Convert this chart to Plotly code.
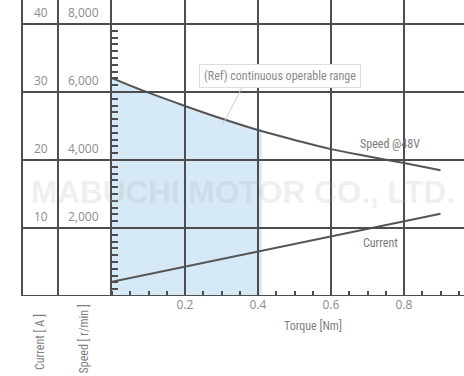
import numpy as np
import plotly.graph_objects as go

# ---- data ----
torque = [0.0, 0.1, 0.2, 0.3, 0.4, 0.5, 0.6, 0.7, 0.8, 0.9]
speed_rpm = [6410, 5980, 5590, 5220, 4880, 4590, 4320, 4110, 3910, 3700]
current_torque = [0.0, 0.9]
current_a = [2.1, 12.1]
range_limit = 0.41
x_ticks = [0.2, 0.4, 0.6, 0.8]
x_tick_labels = ["0.2", "0.4", "0.6", "0.8"]
speed_ticks = [2000, 4000, 6000, 8000]
speed_labels = ["2,000", "4,000", "6,000", "8,000"]
current_ticks = [10, 20, 30, 40]
current_labels = ["10", "20", "30", "40"]

# ---- styling ----
W, H = 464, 376
ML, MR, MT, MB = 112, 0, 0, 80
PW = W - ML - MR
GRID = "#4d4d4d"
CURVE = "#555555"
TXT = "#8c8c8c"
NUMFONT = "Open Sans, Roboto, sans-serif"
NARROW = "Liberation Sans Narrow, Roboto Condensed, Roboto, sans-serif"
FILL = "#d5e9f6"

def px2paper(p):
    return (p - ML) / PW

y_max = 296 / 68 * 2000
y2_max = y_max / 200.0
x_max = PW / 365.0

fig = go.Figure()

# continuous operable range fill
fill_x = [t for t in torque if t <= 0.4] + [range_limit]
fill_y = [s for t, s in zip(torque, speed_rpm) if t <= 0.4] + [float(np.interp(range_limit, torque, speed_rpm))]
fig.add_trace(go.Scatter(x=fill_x, y=fill_y, mode="lines", line=dict(width=0, shape="spline"),
                         fill="tozeroy", fillcolor=FILL, hoverinfo="skip", showlegend=False))

fig.add_trace(go.Scatter(x=torque, y=speed_rpm, mode="lines",
                         line=dict(color=CURVE, width=2, shape="spline"), showlegend=False))
fig.add_trace(go.Scatter(x=current_torque, y=current_a, mode="lines", yaxis="y2",
                         line=dict(color=CURVE, width=2), showlegend=False))

shapes = []
# horizontal grid lines spanning the label columns
for v in speed_ticks + [0]:
    shapes.append(dict(type="line", xref="paper", yref="y", x0=px2paper(22), x1=1, y0=v, y1=v,
                       line=dict(color=GRID, width=2), layer="above"))
# column separators
for p in [22, 58]:
    shapes.append(dict(type="line", xref="paper", yref="paper", x0=px2paper(p), x1=px2paper(p),
                       y0=0, y1=1, line=dict(color=GRID, width=2), layer="above"))
# vertical grid lines
for v in x_ticks:
    shapes.append(dict(type="line", xref="x", yref="paper", x0=v, x1=v, y0=0, y1=1,
                       line=dict(color=GRID, width=2), layer="above"))
# leader line of the range note
shapes.append(dict(type="line", xref="x", yref="y", x0=0.356, y0=6118, x1=0.301, y1=5000,
                   line=dict(color="#cccccc", width=1), layer="above"))

annotations = []
for v, lab in zip(current_ticks, current_labels):
    annotations.append(dict(text=lab, xref="paper", yref="y2", x=px2paper(50), y=v,
                            xanchor="right", yanchor="bottom", yshift=1, showarrow=False,
                            font=dict(family=NUMFONT, size=12, color=TXT)))
for v, lab in zip(speed_ticks, speed_labels):
    annotations.append(dict(text=lab, xref="paper", yref="y", x=px2paper(101), y=v,
                            xanchor="right", yanchor="bottom", yshift=1, showarrow=False,
                            font=dict(family=NUMFONT, size=12, color=TXT)))
# axis titles
annotations.append(dict(text="Torque [Nm]", xref="paper", yref="paper", x=px2paper(313), y=-30 / 296,
                        xanchor="center", yanchor="middle", showarrow=False,
                        font=dict(family=NARROW, size=12, color="#7f7f7f")))
annotations.append(dict(text="Current [ A ]", xref="paper", yref="paper", x=px2paper(40), y=-76 / 296,
                        xanchor="center", yanchor="bottom", textangle=-90, showarrow=False,
                        font=dict(family=NARROW, size=12, color="#7f7f7f")))
annotations.append(dict(text="Speed [ r/min ]", xref="paper", yref="paper", x=px2paper(83), y=-80 / 296,
                        xanchor="center", yanchor="bottom", textangle=-90, showarrow=False,
                        font=dict(family=NARROW, size=12, color="#7f7f7f")))
# curve labels
annotations.append(dict(text="Speed @48V", xref="paper", yref="paper", x=px2paper(390), y=(296 - 144) / 296,
                        xanchor="center", yanchor="middle", showarrow=False,
                        font=dict(family=NARROW, size=12, color="#7a7a7a")))
annotations.append(dict(text="Current", xref="paper", yref="paper", x=px2paper(380), y=(296 - 243) / 296,
                        xanchor="center", yanchor="middle", showarrow=False,
                        font=dict(family=NARROW, size=12, color="#7a7a7a")))
annotations.append(dict(text="(Ref) continuous operable range", xref="paper", yref="paper",
                        x=px2paper(280), y=(296 - 76) / 296, xanchor="center", yanchor="middle",
                        showarrow=False, bgcolor="white", bordercolor="#dddddd", borderwidth=1, borderpad=4,
                        font=dict(family=NARROW, size=12, color="#8a8a8a")))
# watermark
annotations.append(dict(text="<b>MABUCHI MOTOR CO., LTD.</b>", xref="paper", yref="paper",
                        x=px2paper(243), y=(296 - 192) / 296, xanchor="center", yanchor="middle",
                        showarrow=False,
                        font=dict(family="Liberation Sans, Arial, sans-serif", size=31.5,
                                  color="rgba(170,170,170,0.2)")))

minor_y = [v for v in range(200, 8000, 200) if v % 2000 != 0]

fig.update_layout(
    width=W, height=H,
    margin=dict(l=ML, r=MR, t=MT, b=MB, pad=0),
    paper_bgcolor="white", plot_bgcolor="white",
    shapes=shapes, annotations=annotations,
    xaxis=dict(range=[0, x_max], showgrid=False, zeroline=False, showline=False,
               tickmode="array", tickvals=x_ticks, ticktext=x_tick_labels, ticks="",
               tickfont=dict(family=NUMFONT, size=12, color=TXT),
               minor=dict(ticks="inside", dtick=0.05, tick0=0, ticklen=5, tickwidth=2, tickcolor=GRID),
               layer="above traces", fixedrange=True),
    yaxis=dict(range=[0, y_max], showgrid=False, zeroline=False, showline=True, linecolor=GRID, linewidth=2,
               showticklabels=False, ticks="", tickmode="array", tickvals=speed_ticks,
               minor=dict(ticks="inside", tickmode="array", tickvals=minor_y, ticklen=6, tickwidth=2,
                          tickcolor=GRID),
               layer="above traces", fixedrange=True),
    yaxis2=dict(range=[0, y2_max], overlaying="y", side="left", visible=False, fixedrange=True),
    showlegend=False,
)

fig.write_html("out.html", config={"displayModeBar": False},
               post_script="document.body.style.margin='0';document.body.style.overflow='hidden';")
